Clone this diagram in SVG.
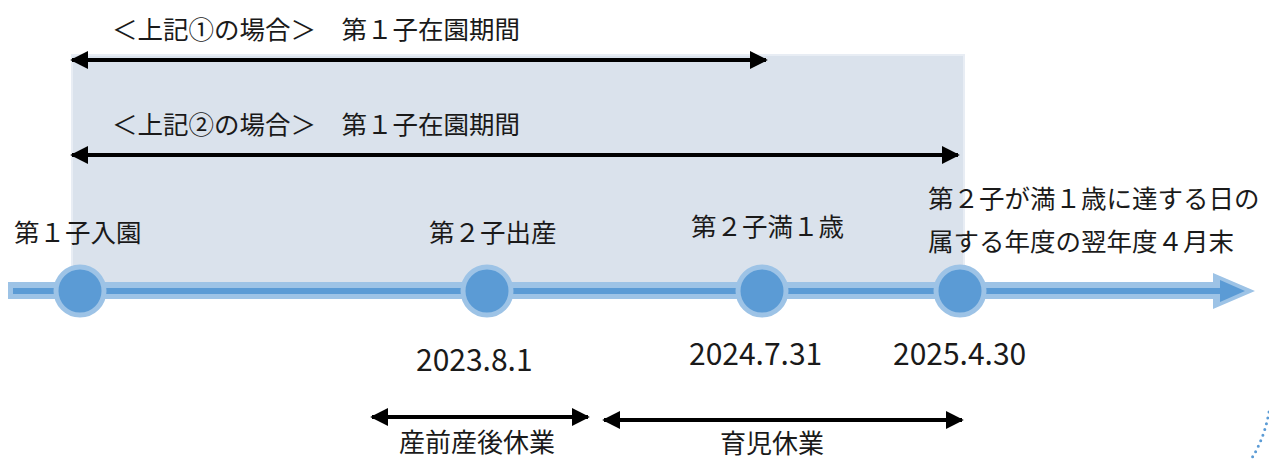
<svg xmlns="http://www.w3.org/2000/svg" width="1269" height="461" viewBox="0 0 1269 461">
<style>
text{font-family:"Noto Sans CJK JP","Noto Sans",sans-serif;font-size:25.5px;fill:#1a1a1a}
text.d{font-size:30px}
text.b{font-size:26px}
.arr{stroke:#000;stroke-width:4;fill:none;marker-start:url(#hs);marker-end:url(#he)}
.node circle{fill:#5B9BD5;stroke:#9DC3E6;stroke-width:5}
</style>
<defs>
<marker id="he" viewBox="0 0 10 10" refX="9" refY="5" markerWidth="4.5" markerHeight="4.5" orient="auto"><path d="M0,0L10,5L0,10z" fill="#000"/></marker>
<marker id="hs" viewBox="0 0 10 10" refX="1" refY="5" markerWidth="4.5" markerHeight="4.5" orient="auto"><path d="M10,0L0,5L10,10z" fill="#000"/></marker>
</defs>
<rect id="period" x="72" y="55" width="892" height="230" fill="#DAE2EC" stroke="#E8EDF4" stroke-width="2"/>
<g id="timeline">
<path d="M8,282H1213V273L1255,291L1213,309V299H8z" fill="#9DC3E6"/>
<path d="M13,288H1220V280L1245,291L1220,302V294H13z" fill="#5B9BD5"/>
</g>
<g id="connectors">
<path class="arr" d="M72,60H766"/>
<path class="arr" d="M72,155H958"/>
<path class="arr" d="M372,417H588"/>
<path class="arr" d="M604,420H962"/>
</g>
<g id="n1" class="node"><circle cx="80" cy="291" r="24"/><text x="14" y="242">第１子入園</text></g>
<g id="n2" class="node"><circle cx="487" cy="291" r="24"/><text x="429" y="242">第２子出産</text><text class="d" x="416" y="371">2023.8.1</text></g>
<g id="n3" class="node"><circle cx="762" cy="291" r="24"/><text x="691" y="236">第２子満１歳</text><text class="d" x="689" y="365">2024.7.31</text></g>
<g id="n4" class="node"><circle cx="960" cy="291" r="24"/><text x="928" y="208">第２子が満１歳に達する日の</text><text x="928" y="251">属する年度の翌年度４月末</text><text class="d" x="893" y="365">2025.4.30</text></g>
<g id="labels">
<text x="112" y="39">＜上記①の場合＞　第１子在園期間</text>
<text x="112" y="134">＜上記②の場合＞　第１子在園期間</text>
<text class="b" x="399" y="452">産前産後休業</text>
<text class="b" x="720" y="453">育児休業</text>
</g>
<path d="M1269,412Q1264,440 1250,461" fill="none" stroke="#5B9BD5" stroke-width="3" stroke-linecap="round" stroke-dasharray="0 6"/>
</svg>
